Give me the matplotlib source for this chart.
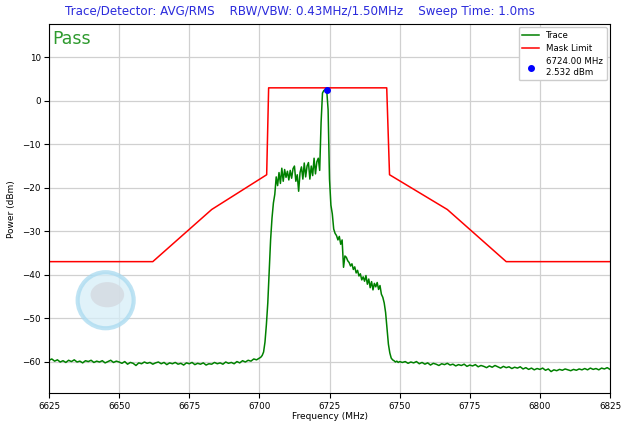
import numpy as np
import matplotlib
matplotlib.use("Agg")
import matplotlib.pyplot as plt
import matplotlib.patches as patches

# 扫频数据 (MHz / dBm)
left_start, left_step = 6625.0, 1.0
left_floor = [
    -59.7, -59.4, -59.9, -59.6, -60.1, -59.8, -60.2, -59.7, -60.0, -59.6,
    -60.1, -59.9, -60.3, -59.8, -60.0, -59.7, -60.2, -59.9, -60.1, -59.8,
    -60.3, -60.0, -59.7, -60.2, -59.9, -60.1, -60.4, -60.0, -60.6, -60.2,
    -60.4, -60.9, -60.3, -60.5, -60.1, -60.4, -60.2, -60.6, -60.3, -60.1,
    -60.5, -60.2, -60.7, -60.3, -60.5, -60.2, -60.6, -60.4, -60.8, -60.3,
    -60.5, -60.2, -60.7, -60.4, -60.6, -60.3, -60.8, -60.5, -60.6, -60.2,
    -60.5, -60.3, -60.6, -60.1, -60.4, -60.2, -60.5, -60.0, -60.3, -59.8,
    -60.1, -59.7, -59.9, -59.4, -59.6, -59.2,
]

band_start, band_step = 6700.5, 0.5
band = [
    -59.0, -58.6, -57.8, -55.5, -51.5, -46.5, -39.0, -32.0, -27.0, -23.5,
    -21.5, -17.5, -19.5, -16.5, -19.0, -15.5, -18.5, -15.8, -17.6, -16.2,
    -18.2, -16.0, -17.8, -15.6, -15.0, -18.5, -17.0, -20.8, -16.5, -15.2,
    -18.0, -14.3, -17.5, -15.0, -14.2, -18.0, -15.0, -17.2, -13.2, -16.8,
    -14.0, -13.2, -16.0, -5.0, 1.8, 2.4, 2.5, 2.532, -2.0, -18.0,
    -24.0, -26.0, -29.5, -30.5, -31.0, -32.0, -31.2, -33.0, -32.0, -38.3,
    -35.7, -36.0, -36.8, -37.2, -38.0, -37.5, -38.8, -38.2, -39.6, -39.0,
    -40.3, -39.8, -41.2, -40.5, -41.5, -40.2, -42.2, -41.0, -43.0, -41.6,
    -43.5, -42.0, -42.8, -41.8, -43.4, -42.5, -44.5, -45.2, -46.5, -48.7,
    -52.5, -56.0, -58.0, -59.2, -59.6, -59.8, -60.1, -59.9, -60.2, -60.0,
]

right_start, right_step = 6751.0, 1.0
right_floor = [
    -60.2, -60.0, -60.4, -60.1, -60.3, -60.0, -60.5, -60.2, -60.6, -60.3,
    -60.8, -60.4, -60.6, -60.9, -60.5, -60.7, -60.4, -60.8, -60.6, -61.0,
    -60.7, -60.9, -60.6, -61.1, -60.8, -61.0, -60.7, -61.2, -60.9, -61.1,
    -61.4, -61.0, -61.3, -60.9, -61.2, -61.5, -61.1, -61.4, -61.2, -61.6,
    -61.3, -61.5, -61.2, -61.7, -61.4, -61.8, -61.5, -61.9, -61.6, -61.8,
    -61.5, -62.0, -61.7, -62.3, -61.9, -62.1, -61.8, -62.0, -61.7, -61.9,
    -62.1, -61.8, -62.0, -61.7, -61.9, -61.6, -61.9, -61.5, -61.8, -61.6,
    -61.9, -61.5, -61.7, -61.4, -61.8,
]

# 模板
mask_freq = [6625, 6662, 6683, 6702.6, 6703.3, 6745.4, 6746.4, 6767, 6788, 6825]
mask_level = [-37, -37, -25, -17, 3, 3, -17, -25, -37, -37]

peak_freq = 6724.00
peak_level = 2.532

x_ticks = [6625, 6650, 6675, 6700, 6725, 6750, 6775, 6800, 6825]
y_ticks = [10, 0, -10, -20, -30, -40, -50, -60]

freq = np.concatenate([
    left_start + left_step * np.arange(len(left_floor)),
    band_start + band_step * np.arange(len(band)),
    right_start + right_step * np.arange(len(right_floor)),
])
power = np.concatenate([left_floor, band, right_floor])

fig = plt.figure(figsize=(6.25, 4.25), dpi=100)
ax = fig.add_axes([0.0784, 0.0746, 0.8976, 0.869])

ax.grid(True, color="#d0d0d0", linewidth=0.9)
ax.set_axisbelow(True)

# 水印
w = 56 / 561.0
h = 56 / 369.0
ax.add_patch(patches.Ellipse((0.101, 0.252), w, h, transform=ax.transAxes,
                             facecolor="#d6eef8", edgecolor="#a9daf0", lw=3, alpha=0.75))
ax.add_patch(patches.Ellipse((0.104, 0.267), w * 0.6, h * 0.45, transform=ax.transAxes,
                             facecolor="#d5dbe2", edgecolor="none", alpha=0.85))

ax.plot(freq, power, color="green", linewidth=1.1, label="Trace")
ax.plot(mask_freq, mask_level, color="red", linewidth=1.1, label="Mask Limit")
ax.plot([peak_freq], [peak_level], "o", color="blue", markersize=4,
        linestyle="none", label="%.2f MHz\n%.3f dBm" % (peak_freq, peak_level))

ax.set_xlim(6625, 6825)
ax.set_ylim(-67.3, 17.7)
ax.set_xticks(x_ticks)
ax.set_yticks(y_ticks)
ax.tick_params(labelsize=6.3, pad=2.5)
ax.set_xlabel("Frequency (MHz)", fontsize=6.5, labelpad=1)
ax.set_ylabel("Power (dBm)", fontsize=6.5, labelpad=4)

ax.text(0.006, 0.985, "Pass", transform=ax.transAxes, color="#2e9a2e",
        fontsize=12.5, va="top", ha="left")

ax.legend(loc="upper right", fontsize=6.2, framealpha=1.0, handlelength=2,
          borderaxespad=0.4)

fig.text(0.48, 0.972, "Trace/Detector: AVG/RMS    RBW/VBW: 0.43MHz/1.50MHz    Sweep Time: 1.0ms",
         color="#2b2bdc", fontsize=8.6, ha="center", va="center")

fig.savefig("out.png", dpi=100)
